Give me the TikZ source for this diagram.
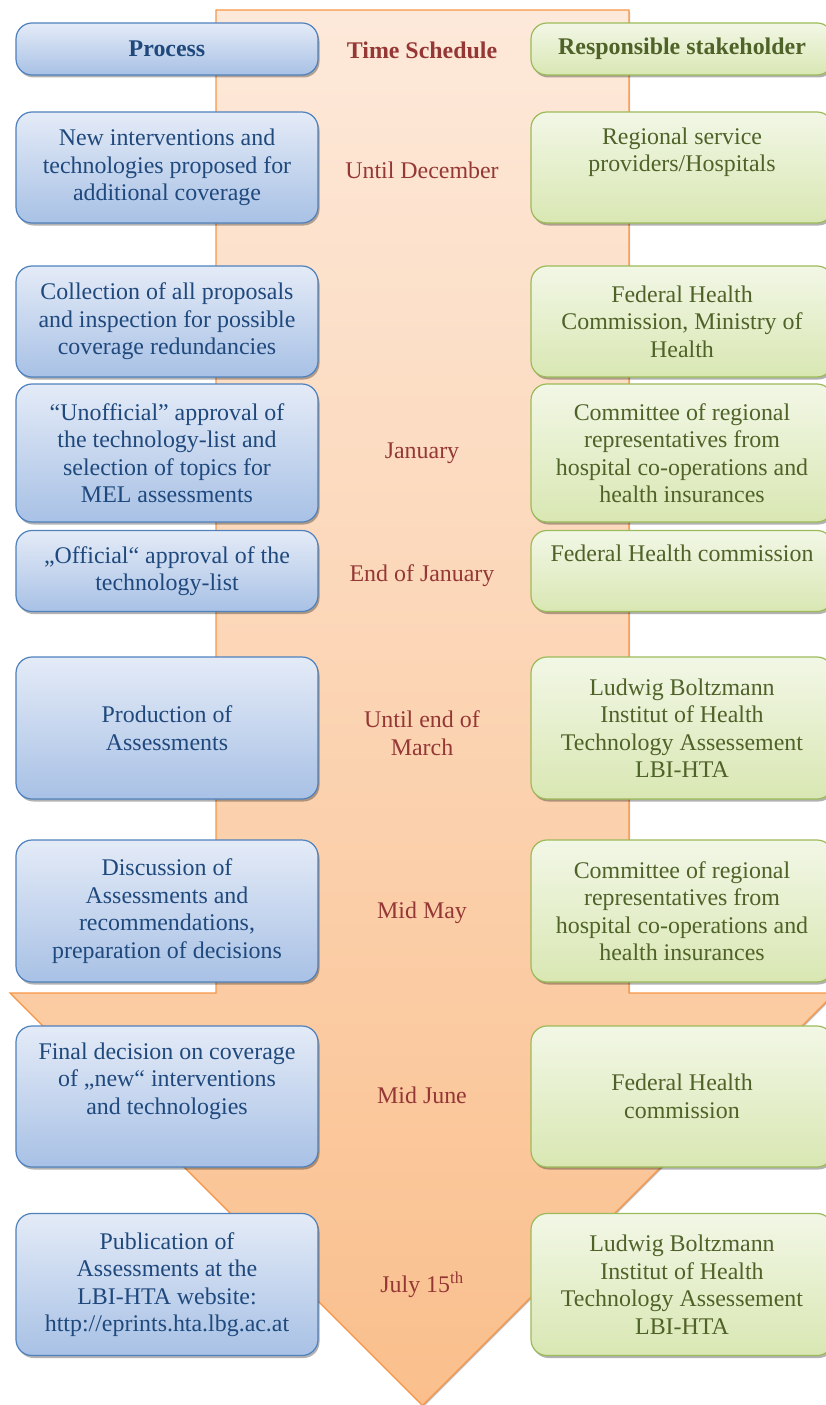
\documentclass[tikz,border=0pt]{standalone}
\usepackage{fontspec}
\setmainfont{Liberation Serif}
\usetikzlibrary{shadows}

\definecolor{procline}{HTML}{4F81BD}
\definecolor{proctop}{HTML}{E4EBF7}
\definecolor{procbot}{HTML}{A8C1E5}
\definecolor{proctxt}{HTML}{1F497D}
\definecolor{holdline}{HTML}{9BBB59}
\definecolor{holdtop}{HTML}{F2F7E6}
\definecolor{holdbot}{HTML}{D9E7B3}
\definecolor{holdtxt}{HTML}{4F6228}
\definecolor{timeline}{HTML}{F79646}
\definecolor{timetop}{HTML}{FDE9DA}
\definecolor{timebot}{HTML}{FABF8C}
\definecolor{timetxt}{HTML}{953735}

\tikzset{
  boxshadow/.style={drop shadow={shadow xshift=1.5bp, shadow yshift=-2.5bp, fill=black, opacity=0.3}},
  procbox/.style={rectangle, rounded corners=16bp, draw=procline, line width=1.2bp,
    top color=proctop, bottom color=procbot, boxshadow, minimum width=302bp,
    align=center, text=proctxt, font=\fontsize{24}{27.6}\selectfont},
  holdbox/.style={procbox, draw=holdline, top color=holdtop, bottom color=holdbot, text=holdtxt},
  timetext/.style={align=center, text=timetxt, font=\fontsize{24}{27.6}\selectfont},
}

\begin{document}
\begin{tikzpicture}[x=1bp, y=-1bp]
\useasboundingbox (0,0) rectangle (825,1405);

% the big down arrow behind everything
\draw[line width=1.2bp, draw=timeline, top color=timetop, bottom color=timebot,
  drop shadow={shadow xshift=1bp, shadow yshift=-1.5bp, fill=black, opacity=0.25}]
  (216,10) -- (629,10) -- (629,993) -- (835,993) -- (422.5,1405.5)
  -- (10,993) -- (216,993) -- cycle;

% headers
\node[procbox, minimum height=52bp, font=\fontsize{24}{27.6}\selectfont\bfseries] (proc) at (167,49) {Process};
\node[timetext, font=\fontsize{24}{27.6}\selectfont\bfseries] (time) at (422,50) {Time Schedule};
\node[holdbox, minimum height=52bp, font=\fontsize{24}{27.6}\selectfont\bfseries] (hold) at (682,49) {Responsible stakeholder};

% process column
\node[procbox, minimum height=111bp] (p1) at (167,167.5) {New interventions and\\technologies proposed for\\additional coverage};
\node[procbox, minimum height=111bp] (p2) at (167,321.5) {Collection of all proposals\\and inspection for possible\\coverage redundancies};
\node[procbox, minimum height=138bp] (p3) at (167,453) {“Unofficial” approval of\\the technology-list and\\selection of topics for\\MEL assessments};
\node[procbox, minimum height=81bp] (p4) at (167,571) {„Official“ approval of the\\technology-list};
\node[procbox, minimum height=142bp] (p5) at (167,728) {Production of\\Assessments};
\node[procbox, minimum height=142bp] (p6) at (167,911) {Discussion of\\Assessments and\\recommendations,\\preparation of decisions};
\node[procbox, minimum height=141bp] (p7) at (167,1096.5) {Final decision on coverage\\of „new“ interventions\\and technologies\\\strut};
\node[procbox, minimum height=142bp] (p8) at (167,1284.5) {Publication of\\Assessments at the\\LBI-HTA website:\\http://eprints.hta.lbg.ac.at};

% time column
\node[timetext] (t1) at (422,170) {Until December};
\node[timetext] (t3) at (422,453) {January};
\node[timetext] (t4) at (422,576) {End of January};
\node[timetext] (t5) at (422,733) {Until end of\\March};
\node[timetext] (t6) at (422,913) {Mid May};
\node[timetext] (t7) at (422,1095) {Mid June};
\node[timetext] (t8) at (422,1285) {July 15\textsuperscript{th}};

% stakeholder column
\node[holdbox, minimum height=111bp] (s1) at (682,167.5) {Regional service\\providers/Hospitals\\\strut};
\node[holdbox, minimum height=111bp] (s2) at (682,321.5) {Federal Health\\Commission, Ministry of\\Health};
\node[holdbox, minimum height=138bp] (s3) at (682,453) {Committee of regional\\representatives from\\hospital co-operations and\\health insurances};
\node[holdbox, minimum height=81bp] (s4) at (682,571) {Federal Health commission\\\strut};
\node[holdbox, minimum height=142bp] (s5) at (682,728) {Ludwig Boltzmann\\Institut of Health\\Technology Assessement\\LBI-HTA};
\node[holdbox, minimum height=142bp] (s6) at (682,911) {Committee of regional\\representatives from\\hospital co-operations and\\health insurances};
\node[holdbox, minimum height=141bp] (s7) at (682,1096.5) {Federal Health\\commission};
\node[holdbox, minimum height=142bp] (s8) at (682,1284.5) {Ludwig Boltzmann\\Institut of Health\\Technology Assessement\\LBI-HTA};
\end{tikzpicture}
\end{document}
